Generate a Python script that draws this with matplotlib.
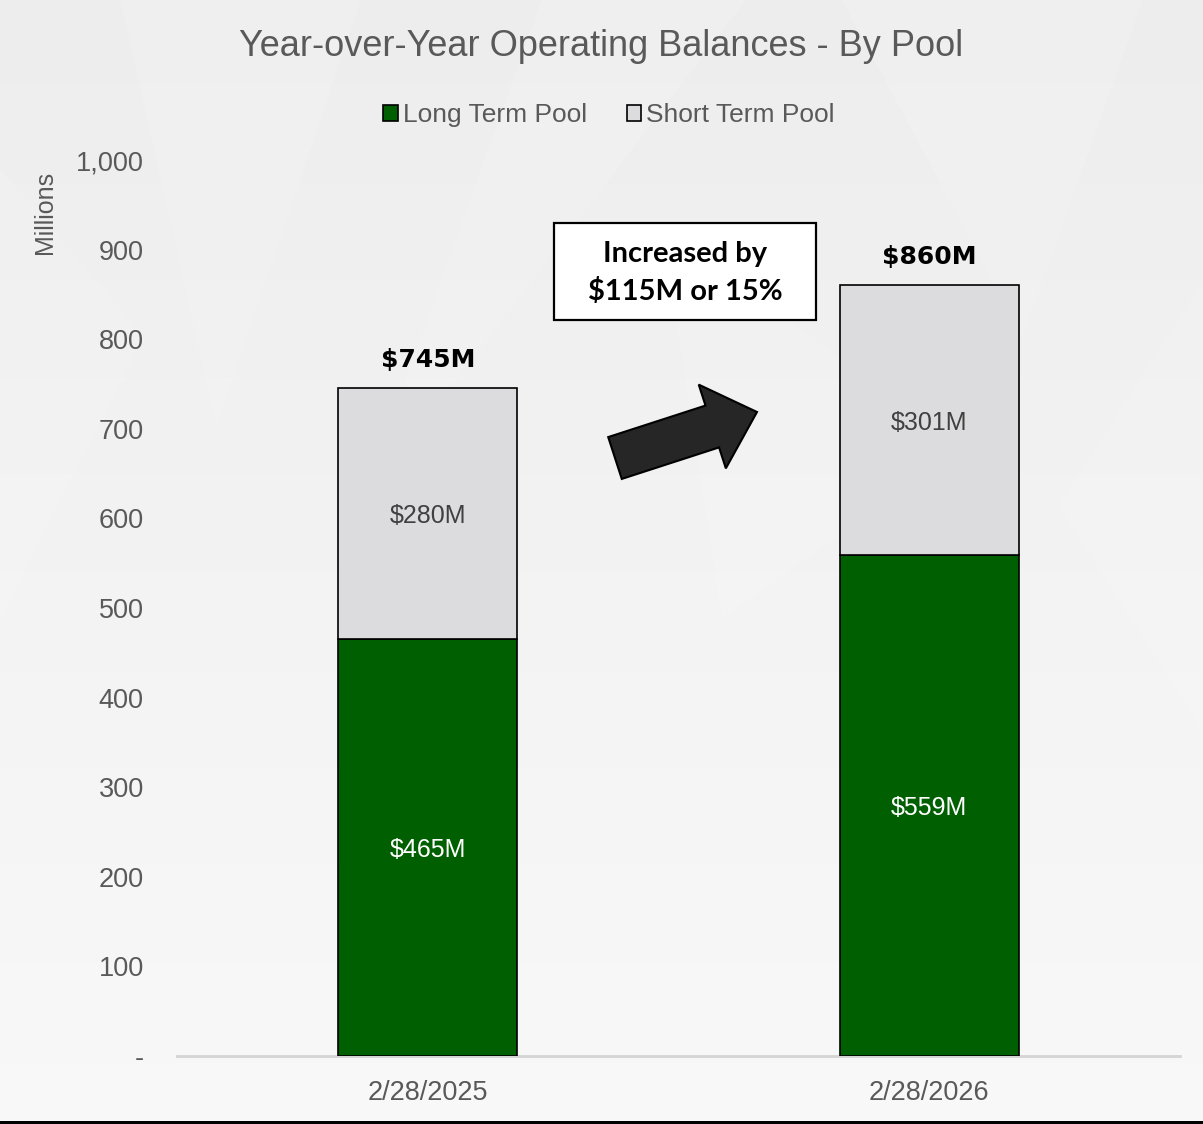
import numpy as np
import matplotlib
matplotlib.use("Agg")
import matplotlib.pyplot as plt
from matplotlib.patches import Polygon, Rectangle
from matplotlib.ticker import FuncFormatter

# ---- data ----
categories = ["2/28/2025", "2/28/2026"]
long_term = [465, 559]
short_term = [280, 301]
series_names = ["Long Term Pool", "Short Term Pool"]
title = "Year-over-Year Operating Balances - By Pool"
callout = "Increased by\n$115M or 15%"
y_ticks = [0, 100, 200, 300, 400, 500, 600, 700, 800, 900, 1000]

W, H = 1203, 1124
fig = plt.figure(figsize=(W / 100, H / 100), dpi=100)

def fx(x):
    return x / W

def fy(y):
    return 1 - y / H

# ---- background ----
bg = fig.add_axes([0, 0, 1, 1], zorder=-10)
grad = np.linspace(0.93, 0.975, 256).reshape(-1, 1)
bg.imshow(np.dstack([grad, grad, grad]), aspect="auto", extent=[0, 1, 0, 1],
          origin="upper", transform=bg.transAxes)
facets = [
    [(0.10, 1.0), (0.30, 1.0), (0.18, 0.62)],
    [(0.45, 1.0), (0.62, 1.0), (0.30, 0.55)],
    [(0.70, 1.0), (0.95, 1.0), (0.85, 0.70)],
    [(0.0, 0.85), (0.12, 0.70), (0.0, 0.45)],
    [(0.55, 0.80), (0.80, 0.60), (0.60, 0.45)],
    [(0.88, 0.55), (1.0, 0.75), (1.0, 0.35)],
]
for pts in facets:
    bg.add_patch(Polygon(pts, closed=True, facecolor="white", alpha=0.12,
                         edgecolor="none", transform=bg.transAxes))
bg.set_xlim(0, 1)
bg.set_ylim(0, 1)
bg.axis("off")
fig.add_artist(Rectangle((0, 0), 1, 3 / H, transform=fig.transFigure,
                         facecolor="black", edgecolor="none"))

# ---- main axes ----
ax = fig.add_axes([fx(177), fy(1056), fx(1180) - fx(177), fy(160) - fy(1056)])
ax.patch.set_alpha(0)
x = np.arange(len(categories))
green = "#005f00"
grey = "#dcdcde"
bw = 0.357
b1 = ax.bar(x, long_term, bw, color=green, edgecolor="black", linewidth=1.2,
            label=series_names[0], zorder=3)
b2 = ax.bar(x, short_term, bw, bottom=long_term, color=grey, edgecolor="black",
            linewidth=1.2, label=series_names[1], zorder=3)

ax.set_xlim(-0.5, 1.5)
ax.set_ylim(0, 1000)
ax.set_yticks(y_ticks)
ax.yaxis.set_major_formatter(FuncFormatter(lambda v, p: "-" if v == 0 else f"{int(v):,}"))
ax.set_xticks(x)
ax.set_xticklabels(categories)
for lab in ax.get_xticklabels() + ax.get_yticklabels():
    lab.set_fontfamily(["Liberation Sans", "DejaVu Sans"])
    lab.set_fontsize(19.5)
    lab.set_color("#595959")
ax.tick_params(axis="y", length=0, pad=24)
ax.tick_params(axis="x", length=0, pad=17)
for s in ["top", "right", "left"]:
    ax.spines[s].set_visible(False)
ax.spines["bottom"].set_color("#d4d4d4")
ax.spines["bottom"].set_linewidth(2)

# segment labels
for i in range(len(categories)):
    ax.text(x[i], long_term[i] / 2, f"${long_term[i]}M", ha="center",
            va="center_baseline", color="white", fontsize=18,
            family=["Liberation Sans", "DejaVu Sans"], zorder=4)
    ax.text(x[i], long_term[i] + short_term[i] / 2, f"${short_term[i]}M", ha="center",
            va="center_baseline", color="#404040", fontsize=18,
            family=["Liberation Sans", "DejaVu Sans"], zorder=4)
    total = long_term[i] + short_term[i]
    ax.annotate(f"${total}M", xy=(x[i], total), xytext=(0, 22), textcoords="offset points",
                ha="center", va="center_baseline", fontsize=18, fontweight="bold",
                color="black", family=["DejaVu Sans"])

# ---- title, legend, y label ----
fig.text(fx(601), fy(43), title, ha="center", va="center_baseline", fontsize=26,
         color="#595959", family=["Liberation Sans", "DejaVu Sans"])
leg = fig.legend(handles=[b1, b2], labels=series_names, loc="center",
                 bbox_to_anchor=(fx(609), fy(115)), ncol=2, frameon=False,
                 prop=dict(family=["Liberation Sans", "DejaVu Sans"], size=19),
                 handlelength=0.55, handleheight=0.55, handletextpad=0.2,
                 columnspacing=1.5, labelcolor="#595959")
fig.text(fx(45), fy(212), "Millions", rotation=90, ha="center", va="center",
         fontsize=18, color="#595959", family=["Liberation Sans", "DejaVu Sans"])

# ---- callout box ----
fig.add_artist(Rectangle((fx(554), fy(320)), fx(816) - fx(554), fy(223) - fy(320),
                         transform=fig.transFigure, facecolor="white",
                         edgecolor="black", linewidth=1.6, zorder=5))
fig.text(fx(685), fy(273), callout, ha="center", va="center", fontsize=21,
         fontweight="bold", color="black", family=["Lato", "DejaVu Sans"],
         linespacing=1.5, zorder=6)

# ---- block arrow ----
tip = np.array([757.0, 412.0])
tail = np.array([615.0, 458.0])
u = (tip - tail) / np.linalg.norm(tip - tail)
n = np.array([-u[1], u[0]])
base = tip - u * 47
pts = [tail + n * 22, base + n * 22, base + n * 44, tip, base - n * 44,
       base - n * 22, tail - n * 22]
pts = [(fx(p[0]), fy(p[1])) for p in pts]
fig.add_artist(Polygon(pts, closed=True, transform=fig.transFigure,
                       facecolor="#262626", edgecolor="black", linewidth=1.5, zorder=5))

fig.savefig("out.png", dpi=100)
